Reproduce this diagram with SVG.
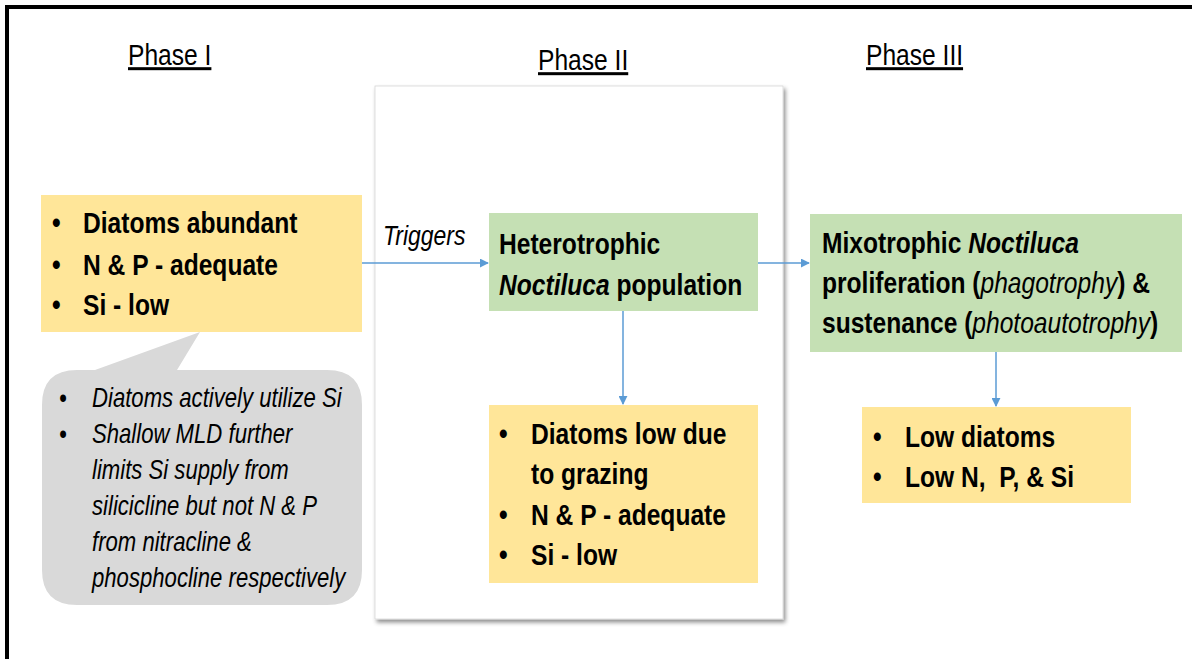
<svg xmlns="http://www.w3.org/2000/svg" width="1192" height="659" viewBox="0 0 1192 659">
<style>
text { font-family: "Liberation Sans", Arial, sans-serif; fill: #000; white-space: pre; }
.hd { font-size: 30px; text-decoration: underline; }
.b { font-size: 30px; font-weight: bold; }
.it { font-size: 27px; font-style: italic; }
.tr { font-size: 28px; font-style: italic; }
.yellow { fill: #ffe699; }
.green { fill: #c5e0b4; }
.grey { fill: #d9d9d9; }
.conn { stroke: #5b9bd5; stroke-width: 1.5; fill: none; marker-end: url(#arr); }
</style>
<defs>
<marker id="arr" viewBox="0 0 10 10" refX="9" refY="5" markerWidth="6" markerHeight="6" markerUnits="strokeWidth" orient="auto">
<path d="M0,0 L10,5 L0,10 Z" fill="#5b9bd5"/>
</marker>
<filter id="sh" x="-5%" y="-5%" width="112%" height="112%">
<feDropShadow dx="2" dy="3" stdDeviation="2" flood-color="#000" flood-opacity="0.45"/>
</filter>
</defs>
<rect width="1192" height="659" fill="#fff"/>
<g id="frame">
<line x1="7" y1="7" x2="1192" y2="7" stroke="#000" stroke-width="4"/>
<line x1="7" y1="5" x2="7" y2="659" stroke="#000" stroke-width="4"/>
</g>
<g id="headings">
<text class="hd" transform="translate(128,65) scale(0.82,1)">Phase I</text>
<text class="hd" transform="translate(538,70) scale(0.82,1)">Phase II</text>
<text class="hd" transform="translate(866,65) scale(0.82,1)">Phase III</text>
</g>
<g id="phase2-panel">
<rect x="375" y="86" width="408" height="533" fill="#fff" stroke="#d6d6d6" stroke-width="0.8" filter="url(#sh)"/>
</g>
<g id="phase1-box">
<rect class="yellow" x="41" y="195" width="321" height="137"/>
<text class="b" transform="translate(52,233) scale(0.82,1)">•</text>
<text class="b" transform="translate(83,233) scale(0.82,1)">Diatoms abundant</text>
<text class="b" transform="translate(52,275) scale(0.82,1)">•</text>
<text class="b" transform="translate(83,275) scale(0.82,1)">N &amp; P - adequate</text>
<text class="b" transform="translate(52,315) scale(0.82,1)">•</text>
<text class="b" transform="translate(83,315) scale(0.82,1)">Si - low</text>
</g>
<g id="phase1-note">
<path class="grey" d="M200,332 L177,370 L327,370 Q362,370 362,405 L362,570 Q362,605 327,605 L77,605 Q42,605 42,570 L42,405 Q42,370 77,370 L95,370 Z"/>
<text class="it" transform="translate(59,407) scale(0.82,1)">•</text>
<text class="it" transform="translate(92,407) scale(0.82,1)">Diatoms actively utilize Si</text>
<text class="it" transform="translate(59,443) scale(0.82,1)">•</text>
<text class="it" transform="translate(92,443) scale(0.82,1)">Shallow MLD further</text>
<text class="it" transform="translate(92,479) scale(0.82,1)">limits Si supply from</text>
<text class="it" transform="translate(92,515) scale(0.82,1)">silicicline but not N &amp; P</text>
<text class="it" transform="translate(92,551) scale(0.82,1)">from nitracline &amp;</text>
<text class="it" transform="translate(92,587) scale(0.82,1)">phosphocline respectively</text>
</g>
<g id="heterotrophic">
<rect class="green" x="489" y="213" width="269" height="98"/>
<text class="b" transform="translate(499,254) scale(0.82,1)">Heterotrophic</text>
<text class="b" transform="translate(499,295) scale(0.82,1)"><tspan font-style="italic">Noctiluca</tspan> population</text>
</g>
<g id="phase2-result">
<rect class="yellow" x="489" y="405" width="269" height="178"/>
<text class="b" transform="translate(499,444) scale(0.82,1)">•</text>
<text class="b" transform="translate(531,444) scale(0.82,1)">Diatoms low due</text>
<text class="b" transform="translate(531,484) scale(0.82,1)">to grazing</text>
<text class="b" transform="translate(499,525) scale(0.82,1)">•</text>
<text class="b" transform="translate(531,525) scale(0.82,1)">N &amp; P - adequate</text>
<text class="b" transform="translate(499,565) scale(0.82,1)">•</text>
<text class="b" transform="translate(531,565) scale(0.82,1)">Si - low</text>
</g>
<g id="mixotrophic">
<rect class="green" x="810" y="214" width="372" height="138"/>
<text class="b" transform="translate(822,253) scale(0.82,1)">Mixotrophic <tspan font-style="italic">Noctiluca</tspan></text>
<text class="b" transform="translate(822,293) scale(0.82,1)">proliferation (<tspan font-style="italic" font-weight="normal">phagotrophy</tspan>) &amp;</text>
<text class="b" transform="translate(822,333) scale(0.82,1)">sustenance (<tspan font-style="italic" font-weight="normal">photoautotrophy</tspan>)</text>
</g>
<g id="phase3-result">
<rect class="yellow" x="862" y="407" width="269" height="96"/>
<text class="b" transform="translate(873,447) scale(0.82,1)">•</text>
<text class="b" transform="translate(905,447) scale(0.82,1)">Low diatoms</text>
<text class="b" transform="translate(873,487) scale(0.82,1)">•</text>
<text class="b" transform="translate(905,487) scale(0.82,1)">Low N,  P, &amp; Si</text>
</g>
<g id="connectors">
<line class="conn" x1="362" y1="263" x2="488" y2="263"/>
<line class="conn" x1="758" y1="263" x2="809" y2="263"/>
<line class="conn" x1="623" y1="311" x2="623" y2="404"/>
<line class="conn" x1="996" y1="352" x2="996" y2="406"/>
<text class="tr" transform="translate(383,245) scale(0.82,1)">Triggers</text>
</g>
</svg>
